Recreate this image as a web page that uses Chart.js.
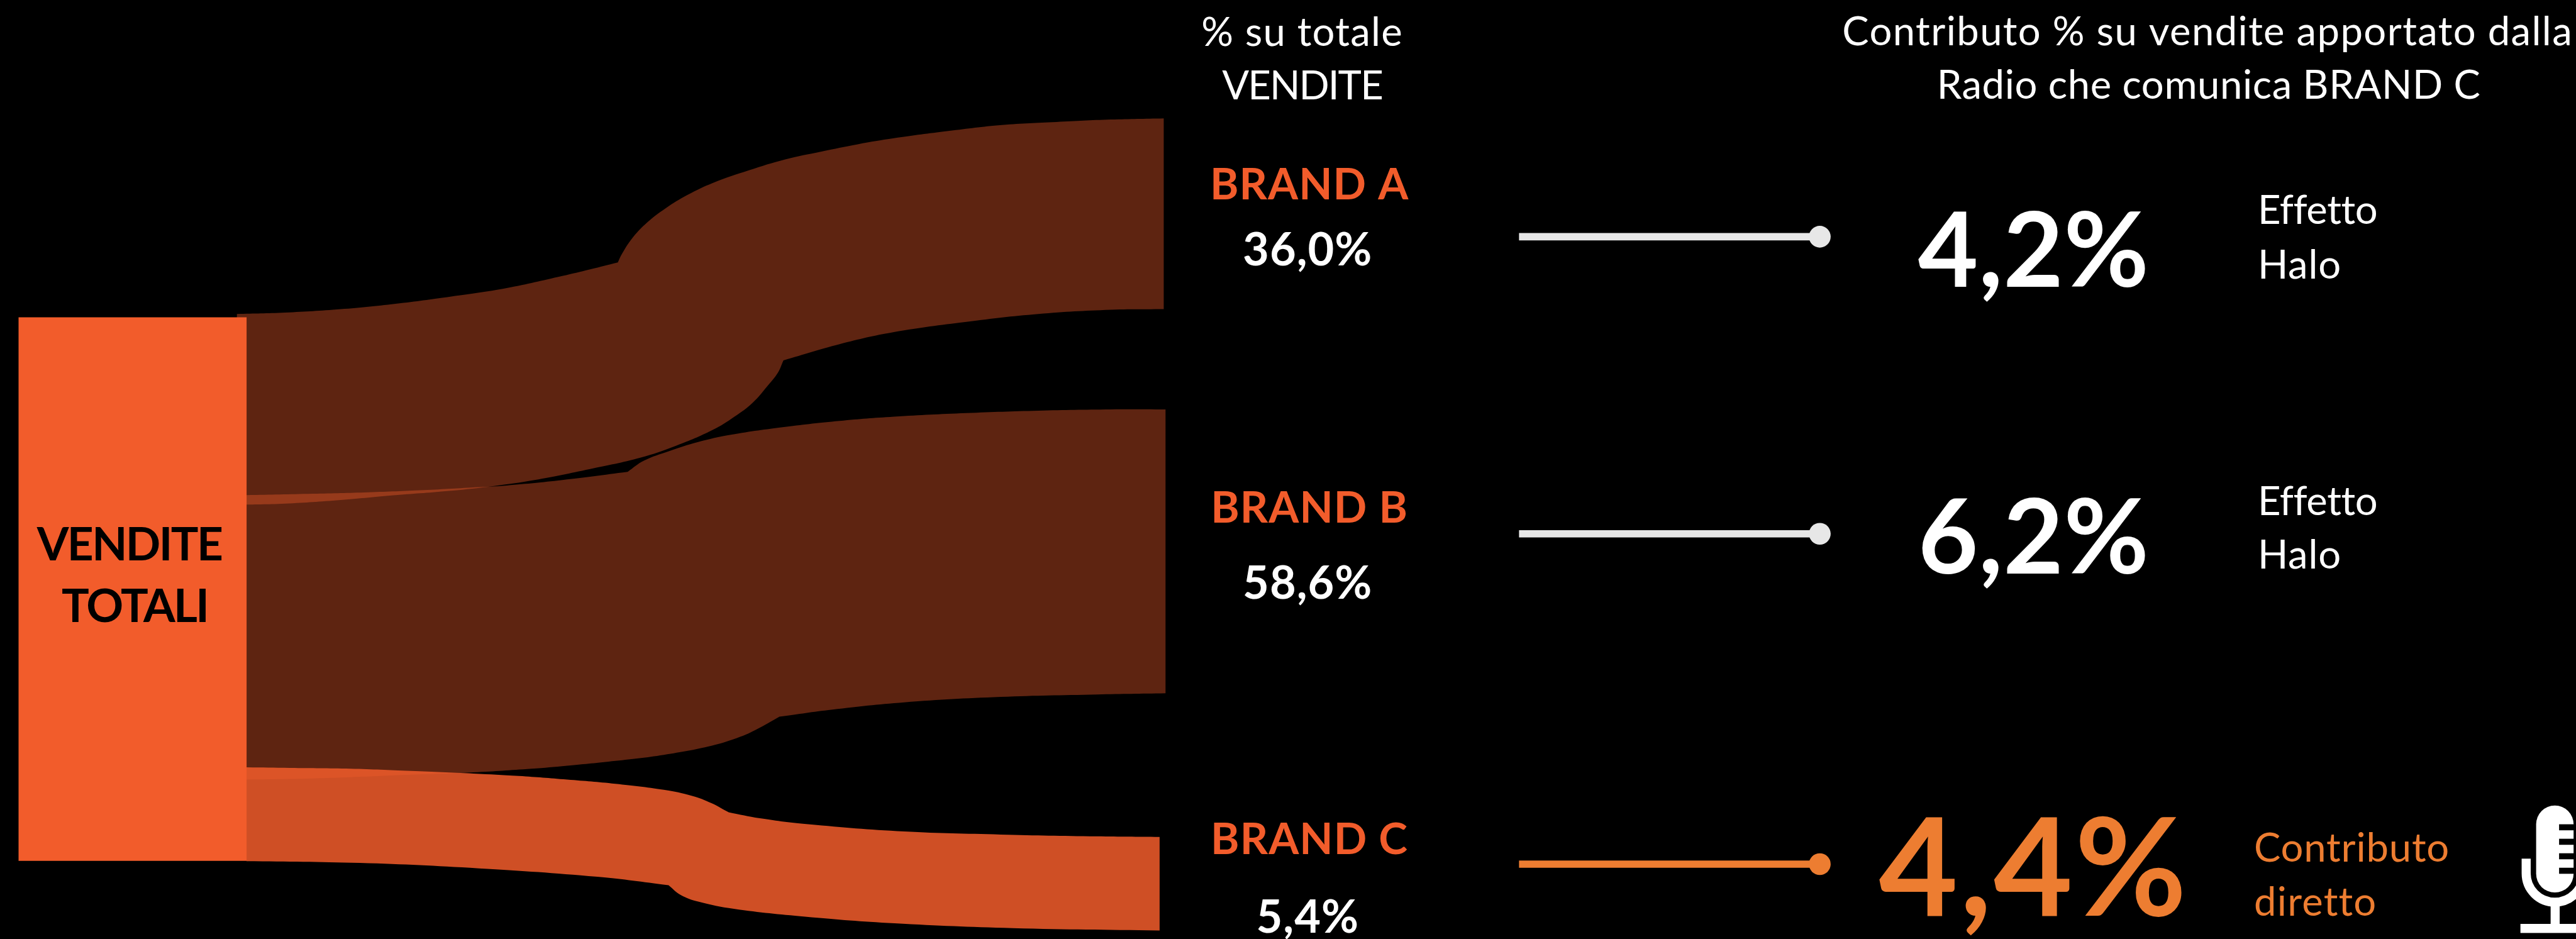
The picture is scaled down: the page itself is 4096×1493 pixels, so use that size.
<!DOCTYPE html>
<html>
<head>
<meta charset="utf-8">
<title>Vendite per brand</title>
<script src="https://cdn.jsdelivr.net/npm/chart.js@4/dist/chart.umd.min.js"></script>
<style>
    html, body { margin: 0; padding: 0; background: #000; overflow: hidden; }
    canvas { display: block; }
</style>
</head>
<body>
<canvas id="grafico" width="4096" height="1493"></canvas>
<script>
// Values shown as text
const brands = ['BRAND A', 'BRAND B', 'BRAND C'];
const shareOfSales = [36.0, 58.6, 5.4];
const radioContribution = [4.2, 6.2, 4.4];
const effectLabels = [['Effetto', 'Halo'], ['Effetto', 'Halo'], ['Contributo', 'diretto']];

// Flow edges, [x, y]; a doubled point keeps the corner sharp where two curves meet
const bandAtop = [[392, 520], [472, 517.7], [564, 512], [655, 503], [747, 491], [839, 477], [931, 457], [977, 446], [1023, 434.5], [1023.2, 434],
    [1030, 420], [1048, 393], [1072, 368], [1102, 345], [1138, 323], [1180, 303], [1240, 282], [1300, 264], [1360, 251], [1420, 239],
    [1480, 229], [1570, 217], [1659, 207], [1749, 202], [1839, 198], [1927, 196]];
const bandAbottom = [[392, 836], [472, 834], [564, 828], [655, 820], [747, 812.7], [816, 805], [885, 795], [977, 776.7], [1060, 758],
    [1120, 738], [1180, 712], [1216, 690], [1246, 667], [1270, 640], [1288, 617], [1297, 597], [1297.2, 596.8],
    [1390, 570], [1480, 550], [1600, 533], [1719, 520], [1839, 513], [1927, 512]];
const bandBtop = [[408, 820], [518, 817.7], [610, 815.3], [701, 811.7], [793, 806.7], [839, 804], [931, 795], [1039, 781.5], [1039.2, 781.3],
    [1066, 763], [1108, 747], [1156, 732], [1210, 720], [1300, 707], [1390, 697], [1480, 690], [1600, 684], [1719, 680], [1839, 678], [1930, 678]];
const bandBbottom = [[408, 1291], [480, 1290], [580, 1287], [680, 1283], [784, 1279], [880, 1273], [939, 1268], [1019, 1260], [1099, 1250],
    [1178, 1235], [1226, 1220], [1258, 1205], [1290, 1187], [1290.2, 1186.9], [1378, 1175], [1497, 1163], [1657, 1154], [1816, 1150], [1930, 1148]];
const bandCtop = [[408, 1270.7], [480, 1271.7], [580, 1273], [680, 1276.7], [784, 1281], [859, 1285], [939, 1291], [1019, 1298], [1099, 1308],
    [1146, 1318], [1178, 1330], [1206, 1345], [1206.2, 1345.1], [1258, 1355], [1338, 1365], [1497, 1377], [1657, 1382], [1816, 1385], [1920, 1386]];
const bandCbottom = [[408, 1426], [596, 1429], [793, 1438], [989, 1452], [1107, 1466], [1107.2, 1466.2], [1127, 1482], [1156, 1493], [1215, 1505],
    [1333, 1518], [1481, 1529], [1677, 1537], [1920, 1541]];
const totalTop = [[30.5, 525.5], [408.5, 525.5]];
const totalBottom = [[30.5, 1425.5], [408.5, 1425.5]];

// Connector rows between the brand column and the contribution figures
const connectorX = [2515, 3013];
const connectorY = [392, 884, 1431];

const k = 4096 / 4265;
const ORANGE = '#f25c2b';
const AMBER = '#ed7d31';
const FONT = 'Lato';

function edge(points, fillTarget, color) {
    return {
        type: 'line',
        data: points.map(p => ({ x: p[0], y: p[1] })),
        borderWidth: 0,
        pointRadius: 0,
        tension: 0.4,
        fill: fillTarget === undefined ? false : { target: fillTarget },
        backgroundColor: color || 'transparent'
    };
}

function connector(y, color) {
    return {
        type: 'line',
        data: connectorX.map(x => ({ x: x, y: y })),
        borderColor: color,
        borderWidth: 12 * k,
        pointRadius: [0, 18 * k],
        pointBackgroundColor: color,
        pointBorderWidth: 0,
        fill: false
    };
}

const percent = v => v.toFixed(1).replace('.', ',') + '%';

// text, x, baseline y, size, weight, colour, alignment, letter spacing
const titles = [
    ['% su totale', 2156, 76.5, 66, 400, '#fff', 'center', 1.3],
    ['VENDITE', 2156, 165, 66, 400, '#fff', 'center', -1.9],
    ['Contributo % su vendite apportato dalla', 3655, 75, 66, 400, '#fff', 'center', 1.4],
    ['Radio che comunica BRAND C', 3657, 163, 66, 400, '#fff', 'center', 0.6],
    ['VENDITE', 214, 928, 76, 700, '#000', 'center', -2.6],
    ['TOTALI', 223, 1030, 76, 700, '#000', 'center', -2.6]
];
const brandBaseline = [330.6, 865.5, 1414];
const shareBaseline = [440, 991.6, 1545];
const figureBaseline = [475, 949.5, 1516.5];
const figureSize = [172, 172, 226];
const figureSpacing = [0.5, 0.5, 3];
const figureColor = ['#fff', '#fff', AMBER];
const effectColor = ['#fff', '#fff', AMBER];
const effectBaseline = [[371, 461], [853, 942], [1427, 1516.7]];
const effectSpacing = [[-0.4, 0.8], [-0.4, 0.8], [0.8, 1.2]];
const effectX = [3738, 3738, 3732];

function drawMic(ctx, sx, sy) {
    // capsule with the notches cut into its right side, cradle, stem and foot
    const w = v => v * k;
    ctx.save();
    ctx.fillStyle = '#fff';
    ctx.beginPath();
    ctx.roundRect(sx(4199), sy(1334), w(62), w(144), w(31));
    ctx.fill();
    ctx.fillStyle = '#000';
    [1365, 1389, 1413, 1437].forEach(y => ctx.fillRect(sx(4237), sy(y), w(30), w(10)));
    ctx.strokeStyle = '#fff';
    ctx.lineWidth = w(15);
    ctx.beginPath();
    ctx.moveTo(sx(4182.5), sy(1422));
    ctx.lineTo(sx(4182.5), sy(1446.5));
    ctx.arc(sx(4230), sy(1446.5), w(47.5), Math.PI, 0, true);
    ctx.stroke();
    ctx.fillStyle = '#fff';
    ctx.fillRect(sx(4223), sy(1500), w(15), w(30));
    ctx.fillRect(sx(4173), sy(1530), w(100), w(15));
    ctx.restore();
}

const textPlugin = {
    id: 'testi',
    afterDraw(chart) {
        const ctx = chart.ctx;
        const sx = v => chart.scales.x.getPixelForValue(v);
        const sy = v => chart.scales.y.getPixelForValue(v);
        const put = (text, x, y, size, weight, color, align, spacing) => {
            ctx.font = weight + ' ' + size * k + 'px ' + FONT;
            ctx.letterSpacing = spacing + 'px';
            ctx.fillStyle = color;
            ctx.textAlign = align;
            ctx.textBaseline = 'alphabetic';
            ctx.fillText(text, sx(x), sy(y));
        };
        ctx.save();
        titles.forEach(t => put(...t));
        brands.forEach((b, i) => {
            put(b, 2168, brandBaseline[i], 72, 700, ORANGE, 'center', 1.1);
            put(percent(shareOfSales[i]), 2165, shareBaseline[i], 75, 700, '#fff', 'center', 1);
            put(percent(radioContribution[i]), 3367, figureBaseline[i], figureSize[i], 700, figureColor[i], 'center', figureSpacing[i]);
            effectLabels[i].forEach((line, j) => put(line, effectX[i], effectBaseline[i][j], 66, 400, effectColor[i], 'left', effectSpacing[i][j]));
        });
        ctx.restore();
        drawMic(ctx, sx, sy);
    }
};

const bandBrown = 'rgba(242, 92, 43, 0.39)';
const bandOrange = 'rgba(242, 92, 43, 0.855)';

new Chart(document.getElementById('grafico').getContext('2d'), {
    data: {
        datasets: [
            edge(totalTop, 1, ORANGE),
            edge(totalBottom),
            edge(bandCtop, 3, bandOrange),
            edge(bandCbottom),
            edge(bandAtop, 5, bandBrown),
            edge(bandAbottom),
            edge(bandBtop, 7, bandBrown),
            edge(bandBbottom),
            connector(connectorY[0], '#e7e7e7'),
            connector(connectorY[1], '#e7e7e7'),
            connector(connectorY[2], AMBER)
        ]
    },
    options: {
        responsive: false,
        animation: false,
        layout: { padding: 0, autoPadding: false },
        scales: {
            x: { type: 'linear', min: 0, max: 4265, display: false },
            y: { type: 'linear', min: 0, max: 1555, reverse: true, display: false }
        },
        plugins: { legend: { display: false }, tooltip: { enabled: false } }
    },
    plugins: [textPlugin]
});
</script>
</body>
</html>
